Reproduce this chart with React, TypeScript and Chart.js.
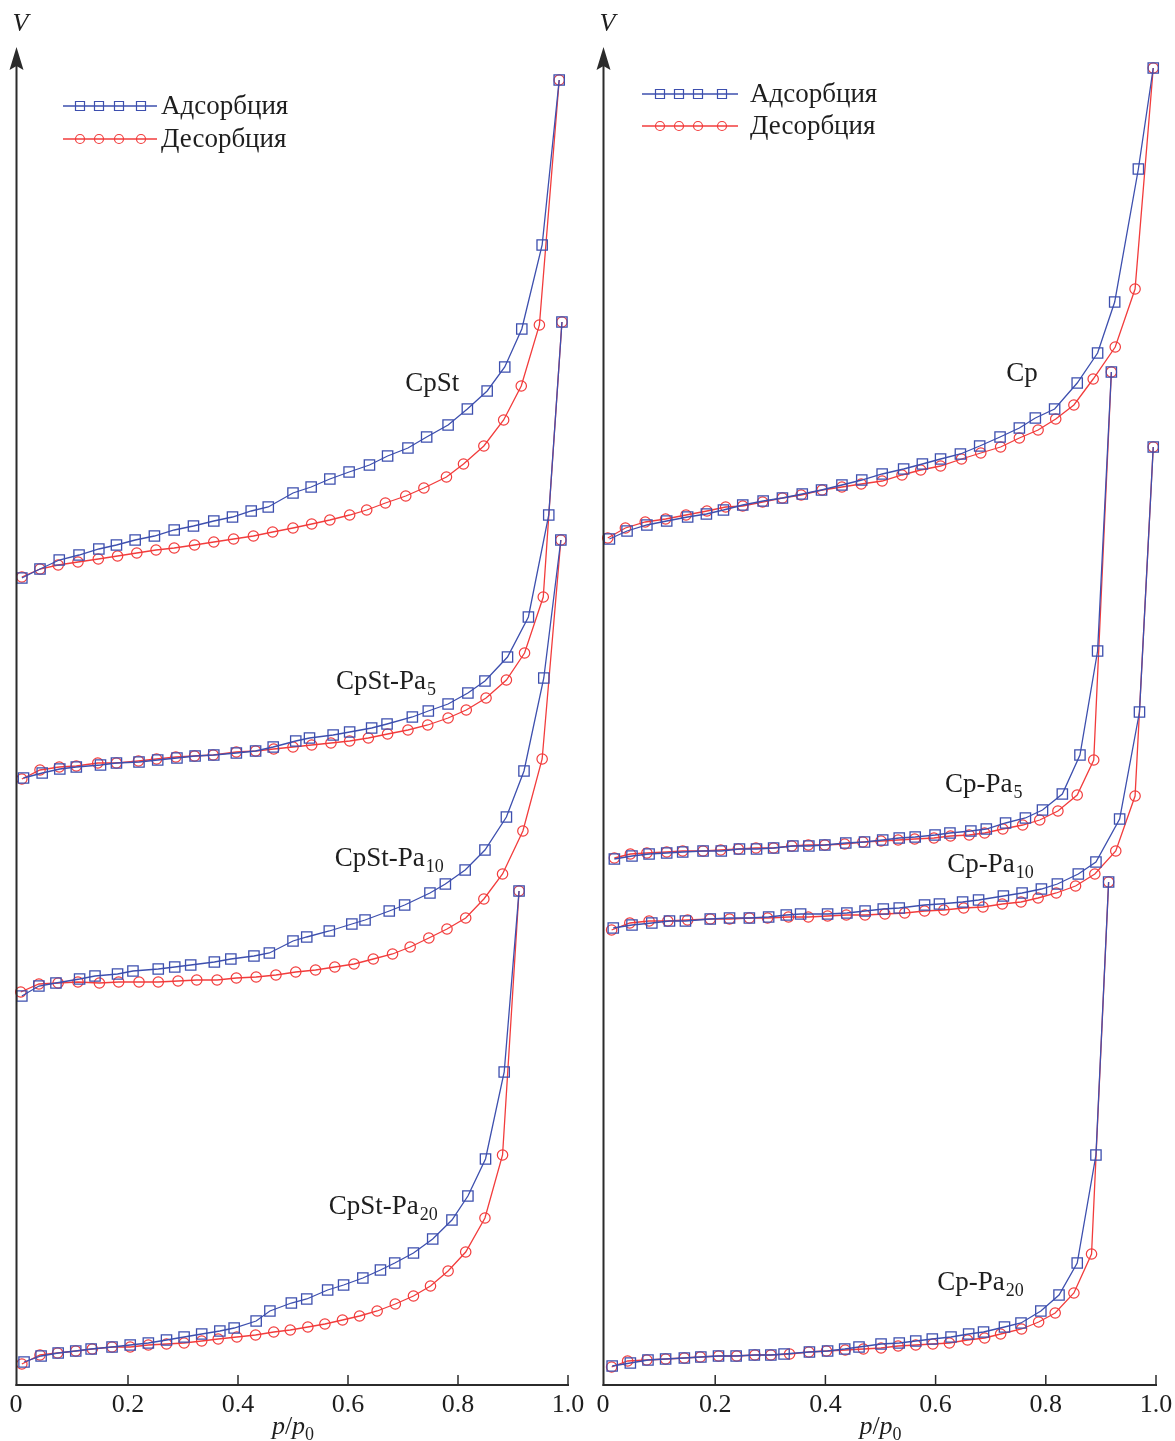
import React, { useEffect, useRef } from 'react';
import { Chart, registerables } from 'chart.js';

Chart.register(...registerables);

// ---------- axis / legend texts ----------
const xTicks = [0, 0.2, 0.4, 0.6, 0.8, 1.0];
const xTickLabels = ['0', '0.2', '0.4', '0.6', '0.8', '1.0'];
const legendLabels = ['Адсорбция', 'Десорбция'];
const yAxisLabel = 'V';

// ---------- left panel: CpSt series ----------
const cpStAdsP = [0.007, 0.040, 0.075, 0.111, 0.147, 0.179, 0.213, 0.248, 0.284, 0.319, 0.356, 0.390, 0.424, 0.455, 0.500, 0.533, 0.567, 0.602, 0.639, 0.672, 0.709, 0.743, 0.782, 0.817, 0.853, 0.885, 0.916, 0.953, 0.984];
const cpStAdsV = [807, 816, 825, 830, 836, 840, 845, 849, 855, 859, 864, 868, 874, 878, 892, 898, 906, 913, 920, 929, 937, 948, 960, 976, 994, 1018, 1056, 1140, 1305];
const cpStDesP = [0.007, 0.040, 0.073, 0.109, 0.146, 0.181, 0.216, 0.251, 0.284, 0.321, 0.356, 0.392, 0.428, 0.463, 0.500, 0.534, 0.567, 0.603, 0.634, 0.668, 0.705, 0.738, 0.779, 0.810, 0.847, 0.883, 0.915, 0.948, 0.984];
const cpStDesV = [808, 816, 820, 823, 826, 829, 832, 835, 837, 840, 843, 846, 849, 853, 857, 861, 865, 870, 875, 882, 889, 897, 908, 921, 939, 965, 999, 1060, 1305];

const cpStPa5AdsP = [0.010, 0.044, 0.076, 0.106, 0.150, 0.179, 0.220, 0.254, 0.289, 0.322, 0.356, 0.397, 0.432, 0.464, 0.505, 0.530, 0.573, 0.603, 0.643, 0.671, 0.717, 0.746, 0.782, 0.818, 0.849, 0.890, 0.928, 0.965, 0.989];
const cpStPa5AdsV = [607, 612, 616, 618, 620, 622, 623, 625, 627, 629, 630, 632, 634, 638, 644, 647, 650, 653, 657, 661, 668, 674, 681, 692, 704, 728, 768, 870, 1063];
const cpStPa5DesP = [0.007, 0.040, 0.075, 0.106, 0.145, 0.179, 0.219, 0.252, 0.287, 0.321, 0.355, 0.397, 0.432, 0.465, 0.500, 0.534, 0.569, 0.603, 0.637, 0.672, 0.709, 0.745, 0.782, 0.815, 0.851, 0.888, 0.921, 0.955, 0.989];
const cpStPa5DesV = [606, 615, 618, 619, 622, 622, 624, 626, 628, 629, 630, 633, 634, 636, 638, 640, 642, 644, 647, 651, 655, 660, 667, 675, 687, 705, 732, 788, 1063];

const cpStPa10AdsP = [0.007, 0.038, 0.069, 0.112, 0.140, 0.181, 0.209, 0.255, 0.285, 0.314, 0.357, 0.387, 0.429, 0.457, 0.500, 0.525, 0.566, 0.607, 0.631, 0.675, 0.703, 0.749, 0.777, 0.813, 0.849, 0.888, 0.920, 0.956, 0.987];
const cpStPa10AdsV = [389, 399, 402, 406, 409, 411, 414, 416, 418, 420, 423, 426, 429, 432, 444, 448, 454, 461, 465, 474, 480, 492, 501, 515, 535, 568, 614, 707, 845];
const cpStPa10DesP = [0.005, 0.038, 0.073, 0.109, 0.148, 0.183, 0.220, 0.255, 0.291, 0.325, 0.362, 0.397, 0.433, 0.469, 0.505, 0.541, 0.576, 0.611, 0.646, 0.681, 0.713, 0.747, 0.780, 0.814, 0.847, 0.881, 0.918, 0.953, 0.987];
const cpStPa10DesV = [393, 401, 402, 403, 402, 403, 403, 403, 404, 405, 405, 407, 408, 410, 413, 415, 418, 421, 426, 431, 438, 447, 456, 467, 486, 511, 554, 626, 845];

const cpStPa20AdsP = [0.011, 0.042, 0.073, 0.105, 0.133, 0.171, 0.204, 0.237, 0.270, 0.302, 0.334, 0.367, 0.393, 0.433, 0.458, 0.497, 0.525, 0.563, 0.592, 0.627, 0.659, 0.685, 0.719, 0.754, 0.789, 0.818, 0.850, 0.884, 0.911];
const cpStPa20AdsV = [23, 29, 32, 34, 36, 38, 40, 42, 45, 48, 51, 54, 57, 64, 74, 82, 86, 95, 100, 107, 115, 122, 132, 146, 165, 189, 226, 313, 494];
const cpStPa20DesP = [0.007, 0.040, 0.072, 0.105, 0.135, 0.171, 0.204, 0.237, 0.270, 0.302, 0.334, 0.364, 0.398, 0.432, 0.465, 0.495, 0.527, 0.558, 0.590, 0.621, 0.653, 0.686, 0.719, 0.750, 0.782, 0.814, 0.849, 0.881, 0.911];
const cpStPa20DesV = [21, 30, 32, 34, 36, 38, 38, 40, 41, 42, 44, 46, 48, 50, 53, 55, 58, 61, 65, 69, 74, 81, 89, 99, 114, 133, 167, 230, 494];

// ---------- right panel: Cp series ----------
const cpAdsP = [0.008, 0.040, 0.076, 0.112, 0.150, 0.184, 0.215, 0.250, 0.287, 0.322, 0.358, 0.393, 0.430, 0.466, 0.503, 0.542, 0.576, 0.609, 0.645, 0.680, 0.717, 0.752, 0.781, 0.816, 0.857, 0.894, 0.925, 0.968, 0.995];
const cpAdsV = [846, 854, 860, 864, 868, 871, 875, 880, 884, 887, 891, 895, 900, 905, 911, 916, 921, 926, 931, 939, 948, 957, 967, 976, 1002, 1032, 1083, 1216, 1317];
const cpDesP = [0.005, 0.037, 0.073, 0.110, 0.147, 0.185, 0.219, 0.250, 0.286, 0.322, 0.356, 0.394, 0.430, 0.465, 0.503, 0.539, 0.573, 0.609, 0.647, 0.682, 0.718, 0.752, 0.786, 0.818, 0.851, 0.886, 0.926, 0.962, 0.995];
const cpDesV = [847, 857, 863, 866, 870, 874, 878, 879, 883, 887, 890, 895, 898, 901, 904, 910, 915, 919, 926, 932, 938, 947, 955, 966, 980, 1006, 1038, 1096, 1317];

const cpPa5AdsP = [0.017, 0.049, 0.080, 0.112, 0.141, 0.178, 0.211, 0.244, 0.275, 0.306, 0.341, 0.370, 0.399, 0.437, 0.471, 0.504, 0.534, 0.563, 0.599, 0.626, 0.664, 0.692, 0.727, 0.763, 0.794, 0.830, 0.862, 0.894, 0.919];
const cpPa5AdsV = [526, 529, 531, 532, 533, 534, 534, 536, 536, 537, 539, 539, 540, 542, 543, 545, 547, 548, 550, 552, 554, 556, 562, 567, 575, 591, 630, 734, 1013];
const cpPa5DesP = [0.017, 0.046, 0.076, 0.112, 0.141, 0.178, 0.210, 0.242, 0.274, 0.306, 0.339, 0.369, 0.399, 0.435, 0.468, 0.501, 0.532, 0.562, 0.597, 0.627, 0.661, 0.689, 0.722, 0.758, 0.789, 0.822, 0.857, 0.887, 0.919];
const cpPa5DesV = [527, 531, 532, 533, 534, 534, 535, 536, 537, 537, 539, 540, 540, 541, 543, 544, 545, 546, 547, 549, 550, 552, 556, 560, 565, 574, 590, 625, 1013];

const cpPa10AdsP = [0.015, 0.049, 0.085, 0.117, 0.146, 0.191, 0.226, 0.262, 0.297, 0.329, 0.355, 0.404, 0.439, 0.472, 0.505, 0.534, 0.580, 0.607, 0.649, 0.678, 0.723, 0.757, 0.792, 0.821, 0.859, 0.891, 0.934, 0.970, 0.995];
const cpPa10AdsV = [457, 460, 462, 464, 464, 466, 467, 467, 468, 470, 471, 471, 472, 474, 476, 477, 480, 481, 483, 485, 489, 492, 496, 501, 511, 523, 566, 673, 938];
const cpPa10DesP = [0.012, 0.045, 0.080, 0.114, 0.150, 0.191, 0.226, 0.262, 0.295, 0.333, 0.369, 0.404, 0.438, 0.472, 0.508, 0.544, 0.580, 0.615, 0.651, 0.686, 0.721, 0.755, 0.786, 0.819, 0.854, 0.889, 0.927, 0.962, 0.995];
const cpPa10DesV = [455, 462, 464, 464, 465, 466, 466, 467, 467, 468, 468, 469, 470, 470, 471, 472, 474, 475, 477, 478, 481, 483, 487, 492, 499, 511, 534, 589, 938];

const cpPa20AdsP = [0.013, 0.046, 0.078, 0.110, 0.144, 0.174, 0.206, 0.238, 0.271, 0.301, 0.325, 0.371, 0.404, 0.435, 0.461, 0.501, 0.534, 0.564, 0.594, 0.628, 0.660, 0.687, 0.725, 0.755, 0.791, 0.824, 0.857, 0.891, 0.914];
const cpPa20AdsV = [19, 22, 25, 26, 27, 28, 29, 29, 30, 30, 31, 33, 34, 36, 38, 41, 42, 44, 46, 48, 51, 53, 58, 62, 74, 90, 122, 230, 503];
const cpPa20DesP = [0.012, 0.041, 0.076, 0.110, 0.144, 0.173, 0.206, 0.239, 0.272, 0.301, 0.335, 0.370, 0.402, 0.436, 0.469, 0.501, 0.532, 0.564, 0.595, 0.625, 0.658, 0.689, 0.718, 0.756, 0.787, 0.817, 0.851, 0.883, 0.914];
const cpPa20DesV = [18, 24, 25, 26, 27, 28, 29, 29, 30, 30, 31, 33, 34, 35, 36, 37, 39, 40, 41, 42, 45, 47, 51, 56, 63, 72, 92, 131, 503];

// ---------- curve labels (name, subscript, anchor in data coords) ----------
const leftNames = ['CpSt', 'CpSt-Pa', 'CpSt-Pa', 'CpSt-Pa'];
const leftSubs = ['', '5', '10', '20'];
const leftLabelP = [0.704, 0.578, 0.576, 0.565];
const leftLabelV = [1001, 703, 526, 178];

const rightNames = ['Cp', 'Cp-Pa', 'Cp-Pa', 'Cp-Pa'];
const rightSubs = ['', '5', '10', '20'];
const rightLabelP = [0.728, 0.617, 0.621, 0.603];
const rightLabelV = [1011, 600, 520, 102];

// ---------- styling ----------
const BLUE = '#3d4fae';
const RED = '#f23c3c';
const AXIS = '#2b2b2b';
const TEXT = '#1e1e1e';
const SERIF = "'Liberation Serif', 'DejaVu Serif', serif";
const V_MAX = 1340;

type Curve = {
  adsP: number[]; adsV: number[]; desP: number[]; desV: number[];
  name: string; sub: string; lp: number; lv: number;
};

const leftCurves: Curve[] = [
  { adsP: cpStAdsP, adsV: cpStAdsV, desP: cpStDesP, desV: cpStDesV },
  { adsP: cpStPa5AdsP, adsV: cpStPa5AdsV, desP: cpStPa5DesP, desV: cpStPa5DesV },
  { adsP: cpStPa10AdsP, adsV: cpStPa10AdsV, desP: cpStPa10DesP, desV: cpStPa10DesV },
  { adsP: cpStPa20AdsP, adsV: cpStPa20AdsV, desP: cpStPa20DesP, desV: cpStPa20DesV },
].map((c, i) => ({ ...c, name: leftNames[i], sub: leftSubs[i], lp: leftLabelP[i], lv: leftLabelV[i] }));

const rightCurves: Curve[] = [
  { adsP: cpAdsP, adsV: cpAdsV, desP: cpDesP, desV: cpDesV },
  { adsP: cpPa5AdsP, adsV: cpPa5AdsV, desP: cpPa5DesP, desV: cpPa5DesV },
  { adsP: cpPa10AdsP, adsV: cpPa10AdsV, desP: cpPa10DesP, desV: cpPa10DesV },
  { adsP: cpPa20AdsP, adsV: cpPa20AdsV, desP: cpPa20DesP, desV: cpPa20DesV },
].map((c, i) => ({ ...c, name: rightNames[i], sub: rightSubs[i], lp: rightLabelP[i], lv: rightLabelV[i] }));

type PanelProps = {
  curves: Curve[];
  left: number;
  width: number;
  padL: number;
  padR: number;
  legend: { x0: number; x1: number; y: number[]; marks: number[]; textX: number };
};

function drawMarker(ctx: CanvasRenderingContext2D, kind: 'rect' | 'circle', x: number, y: number, s: number, color: string) {
  ctx.save();
  ctx.strokeStyle = color;
  ctx.lineWidth = 1.2;
  ctx.beginPath();
  if (kind === 'rect') ctx.rect(x - s / 2, y - s / 2, s, s);
  else ctx.arc(x, y, s / 2, 0, Math.PI * 2);
  ctx.stroke();
  ctx.restore();
}

function Panel({ curves, left, width, padL, padR, legend }: PanelProps) {
  const ref = useRef<HTMLCanvasElement | null>(null);

  useEffect(() => {
    const canvas = ref.current;
    if (!canvas) return;

    const datasets: any[] = [];
    curves.forEach((c) => {
      datasets.push({
        label: legendLabels[0],
        data: c.adsP.map((p, i) => ({ x: p, y: c.adsV[i] })),
        borderColor: BLUE,
        borderWidth: 1.3,
        pointStyle: 'rect',
        pointRadius: 7.3,
        pointBorderWidth: 1.3,
        pointBorderColor: BLUE,
        pointBackgroundColor: 'rgba(0,0,0,0)',
        backgroundColor: 'rgba(0,0,0,0)',
        fill: false,
        tension: 0,
        clip: false,
      });
      datasets.push({
        label: legendLabels[1],
        data: c.desP.map((p, i) => ({ x: p, y: c.desV[i] })),
        borderColor: RED,
        borderWidth: 1.3,
        pointStyle: 'circle',
        pointRadius: 5.2,
        pointBorderWidth: 1.2,
        pointBorderColor: RED,
        pointBackgroundColor: 'rgba(0,0,0,0)',
        backgroundColor: 'rgba(0,0,0,0)',
        fill: false,
        tension: 0,
        clip: false,
      });
    });

    const overlay = {
      id: 'overlay',
      afterDraw(chart: any) {
        const { ctx, chartArea: a, scales } = chart;
        const xs = scales.x;
        const ys = scales.y;
        ctx.save();
        const axX = a.left - 1.5;
        ctx.strokeStyle = AXIS;
        ctx.lineWidth = 2;
        // x axis
        ctx.beginPath();
        ctx.moveTo(axX - 1, a.bottom);
        ctx.lineTo(a.right + 1, a.bottom);
        ctx.stroke();
        // y axis
        ctx.beginPath();
        ctx.moveTo(axX, a.bottom + 1);
        ctx.lineTo(axX, 62);
        ctx.stroke();
        // arrow head
        ctx.fillStyle = AXIS;
        ctx.beginPath();
        ctx.moveTo(axX, 47);
        ctx.lineTo(axX - 7, 70);
        ctx.lineTo(axX, 66);
        ctx.lineTo(axX + 7, 70);
        ctx.closePath();
        ctx.fill();
        // inward ticks + tick labels
        ctx.lineWidth = 1.5;
        ctx.fillStyle = TEXT;
        ctx.font = `26px ${SERIF}`;
        ctx.textAlign = 'center';
        ctx.textBaseline = 'middle';
        xTicks.forEach((t, i) => {
          const px = xs.getPixelForValue(t);
          if (t !== 0) {
            ctx.beginPath();
            ctx.moveTo(px, a.bottom);
            ctx.lineTo(px, a.bottom - 10);
            ctx.stroke();
          }
          ctx.fillText(xTickLabels[i], t === 0 ? px - 2 : px, a.bottom + 20);
        });
        // V label
        ctx.font = `italic 26px ${SERIF}`;
        ctx.fillText(yAxisLabel, axX + 4, 24);
        // x title p/p0
        const cx = (a.left + a.right) / 2;
        const ty = 1437;
        ctx.font = `italic 26px ${SERIF}`;
        const w1 = ctx.measureText('p').width;
        ctx.font = `26px ${SERIF}`;
        const w2 = ctx.measureText('/').width;
        ctx.font = `18px ${SERIF}`;
        const w4 = ctx.measureText('0').width;
        const total = w1 * 2 + w2 + w4;
        let tx = cx - total / 2;
        ctx.textAlign = 'left';
        ctx.textBaseline = 'alphabetic';
        ctx.font = `italic 26px ${SERIF}`;
        ctx.fillText('p', tx, ty - 3);
        tx += w1;
        ctx.font = `26px ${SERIF}`;
        ctx.fillText('/', tx, ty - 3);
        tx += w2;
        ctx.font = `italic 26px ${SERIF}`;
        ctx.fillText('p', tx, ty - 3);
        tx += w1;
        ctx.font = `18px ${SERIF}`;
        ctx.fillText('0', tx, ty + 3);
        // curve labels
        curves.forEach((c) => {
          const lx = xs.getPixelForValue(c.lp);
          const ly = ys.getPixelForValue(c.lv);
          ctx.font = `27px ${SERIF}`;
          ctx.textBaseline = 'middle';
          ctx.fillText(c.name, lx, ly);
          if (c.sub) {
            const w = ctx.measureText(c.name).width;
            ctx.font = `18px ${SERIF}`;
            ctx.fillText(c.sub, lx + w + 1, ly + 8);
          }
        });
        // legend
        const styles: Array<['rect' | 'circle', string, number]> = [['rect', BLUE, 9], ['circle', RED, 9]];
        legendLabels.forEach((lab, i) => {
          const y = legend.y[i];
          const [kind, color, size] = styles[i];
          ctx.strokeStyle = color;
          ctx.lineWidth = 1.3;
          ctx.beginPath();
          ctx.moveTo(legend.x0, y);
          ctx.lineTo(legend.x1, y);
          ctx.stroke();
          legend.marks.forEach((mx) => drawMarker(ctx, kind, mx, y, size, color));
          ctx.fillStyle = TEXT;
          ctx.font = `27px ${SERIF}`;
          ctx.textAlign = 'left';
          ctx.textBaseline = 'middle';
          ctx.fillText(lab, legend.textX, y + 1);
        });
        ctx.restore();
      },
    };

    const chart = new Chart(canvas, {
      type: 'line',
      data: { datasets },
      options: {
        responsive: false,
        animation: false,
        devicePixelRatio: 1,
        layout: { padding: { left: padL, right: padR, top: 45, bottom: 0 } },
        plugins: { legend: { display: false }, tooltip: { enabled: false } },
        scales: {
          x: {
            type: 'linear',
            min: 0,
            max: 1,
            afterBuildTicks: (s: any) => {
              s.ticks = xTicks.map((v) => ({ value: v }));
            },
            afterFit: (s: any) => {
              s.height = 56;
              s.paddingLeft = 0;
              s.paddingRight = 0;
            },
            ticks: { display: false },
            grid: { display: false, drawTicks: false },
            border: { display: false },
          },
          y: { type: 'linear', min: 0, max: V_MAX, display: false },
        },
      },
      plugins: [overlay],
    } as any);

    return () => chart.destroy();
  }, []);

  return (
    <canvas
      ref={ref}
      width={width}
      height={1441}
      style={{ position: 'absolute', left, top: 0, width, height: 1441, display: 'block' }}
    />
  );
}

export default function App() {
  return (
    <div style={{ position: 'absolute', left: 0, top: 0, width: 1175, height: 1441, background: '#fff', overflow: 'hidden' }}>
      <Panel
        curves={leftCurves}
        left={0}
        width={590}
        padL={18}
        padR={22}
        legend={{ x0: 63, x1: 157, y: [106, 139], marks: [80, 99, 119, 141], textX: 161 }}
      />
      <Panel
        curves={rightCurves}
        left={590}
        width={585}
        padL={15}
        padR={19}
        legend={{ x0: 52, x1: 148, y: [94, 126], marks: [70, 89, 108, 132], textX: 160 }}
      />
    </div>
  );
}
